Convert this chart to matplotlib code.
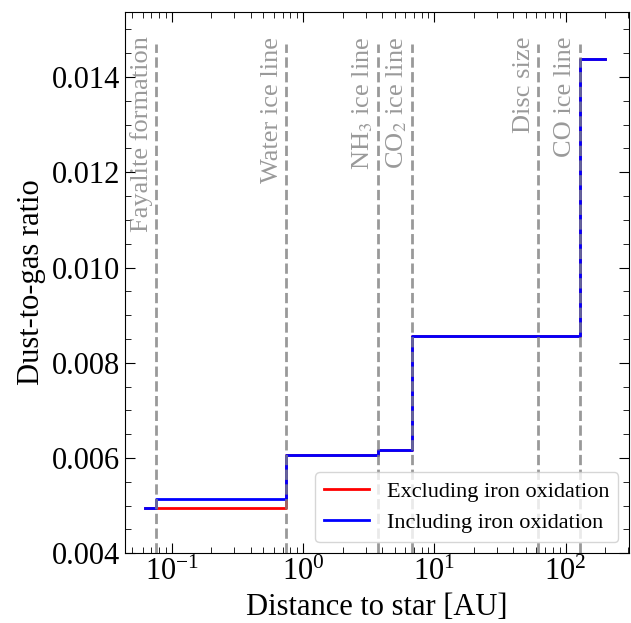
import matplotlib
matplotlib.use('Agg')
import matplotlib.pyplot as plt
from matplotlib.ticker import AutoMinorLocator

plt.rcParams['font.family'] = ['Liberation Serif', 'DejaVu Serif']
plt.rcParams['mathtext.fontset'] = 'stix'

# distances [AU] of the step edges and dust-to-gas ratio after each edge
r_sans_fe = [0.0625, 0.74, 3.74, 6.8, 128, 200]
dg_sans_fe = [0.00494, 0.00607, 0.00616, 0.00856, 0.01439, 0.01439]

r_avec_fe = [0.0625, 0.076, 0.74, 3.74, 6.8, 128, 200]
dg_avec_fe = [0.00494, 0.00514, 0.00607, 0.00616, 0.00856, 0.01439, 0.01439]

# lignes caracteristiques
lignes_r = [0.076, 0.74, 3.74, 6.8, 62, 128]
lignes_noms = ['Fayalite formation', 'Water ice line', r'NH$_3$ ice line',
               r'CO$_2$ ice line', 'Disc size', 'CO ice line']

fig, ax = plt.subplots(figsize=(6.31, 6.23), dpi=100)

ax.step(r_sans_fe, dg_sans_fe, where='post', color='red', lw=2,
        label='Excluding iron oxidation')
ax.step(r_avec_fe, dg_avec_fe, where='post', color='blue', lw=2,
        label='Including iron oxidation')

for r, nom in zip(lignes_r, lignes_noms):
    ax.axvline(r, ymin=0, ymax=0.94, color='grey', ls='--', lw=2, alpha=0.8)
    ax.text(r / 1.06, 0.01485, nom, rotation=90, ha='right', va='top',
            color='grey', alpha=0.8, fontsize=19)

ax.set_xscale('log')
ax.set_xlim(0.044, 305)
ax.set_ylim(0.004, 0.01537)
ax.set_yticks([0.004, 0.006, 0.008, 0.010, 0.012, 0.014])
ax.set_yticklabels(['0.004', '0.006', '0.008', '0.010', '0.012', '0.014'])
ax.yaxis.set_minor_locator(AutoMinorLocator(4))

ax.set_xlabel('Distance to star [AU]', fontsize=22)
ax.set_ylabel('Dust-to-gas ratio', fontsize=22)
ax.tick_params(which='both', direction='in', top=True, right=True, labelsize=22)
ax.tick_params(which='major', length=7)
ax.tick_params(which='minor', length=4)

ax.legend(loc='lower right', fontsize=16)

fig.subplots_adjust(left=0.198, right=0.997, top=0.981, bottom=0.112)
fig.savefig('out.png', dpi=100)
